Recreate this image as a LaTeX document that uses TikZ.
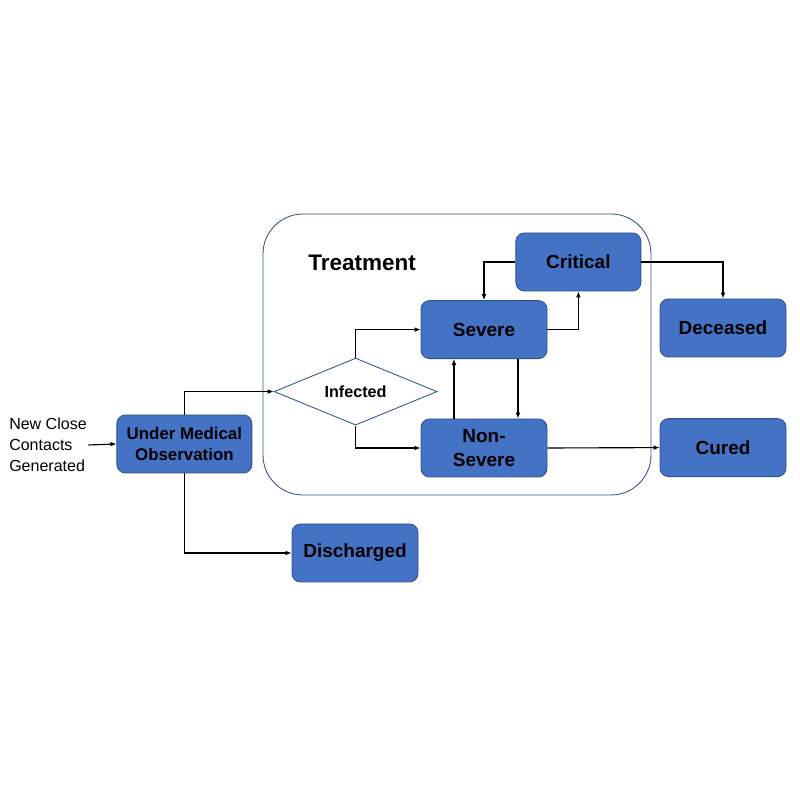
\documentclass[tikz,border=0pt]{standalone}
\usepackage{fontspec}
\setmainfont{Liberation Sans}
\usepackage{xcolor}
\usepackage{tikz}
\usetikzlibrary{calc, shapes.geometric, positioning, arrows.meta}

\definecolor{boxfill}{HTML}{4472C4}
\definecolor{boxedge}{HTML}{2F528F}

\begin{document}
\begin{tikzpicture}[>={Latex[length=1.5mm,width=1.2mm]},
    state/.style={draw=boxedge, fill=boxfill, rounded corners=6pt, line width=0.6pt,
        minimum width=3.15cm, minimum height=1.45cm, align=center,
        font=\fontsize{13.5}{16.5}\selectfont\bfseries},
    flow/.style={->, line width=0.8pt}]
    \useasboundingbox (0,0) rectangle (20,20);
    % treatment frame
    \draw[boxedge, line width=0.6pt, rounded corners=1cm] (6.575,7.625) rectangle (16.275,14.65);
    \node[font=\fontsize{16}{18}\selectfont\bfseries] (treat) at (9.05,13.43) {Treatment};

    \node[align=left, font=\fontsize{11.4}{15}\selectfont, inner sep=1pt] (new) at (1.2,8.875) {New Close\\Contacts\\Generated};
    \node[state, minimum width=3.375cm, font=\fontsize{12}{14.5}\selectfont\bfseries] (umo) at (4.61,8.9) {Under Medical\\Observation};
    \node[diamond, draw=boxedge, fill=white, line width=0.6pt, aspect=2.43, inner sep=0pt,
        minimum width=4.075cm, minimum height=1.675cm, font=\fontsize{11.5}{13}\selectfont\bfseries] (inf) at (8.89,10.21) {Infected};
    \node[state, minimum width=3.125cm] (crit) at (14.46,13.45) {Critical};
    \node[state] (sev) at (12.1,11.76) {Severe};
    \node[state] (nsev) at (12.1,8.8) {Non-\\Severe};
    \node[state] (dec) at (18.075,11.8) {Deceased};
    \node[state] (cur) at (18.075,8.81) {Cured};
    \node[state] (dis) at (8.875,6.175) {Discharged};

    % connectors
    \draw[flow] (new.east) -- (umo.west);
    \draw[flow] (umo.north) |- (inf.west);
    \draw[flow] (umo.south) |- (dis.west);
    \draw[flow] (inf.north) |- (sev.west);
    \draw[flow] (inf.south) |- (nsev.west);
    \draw[flow] (sev.east) -| (crit.south);
    \draw[flow] (crit.west) -| (sev.north);
    \draw[flow] (crit.east) -| (dec.north);
    \draw[flow] ([xshift=0.85cm]sev.south) -- ([xshift=0.85cm]nsev.north);
    \draw[flow] ([xshift=-0.75cm]nsev.north) -- ([xshift=-0.75cm]sev.south);
    \draw[flow] (nsev.east) -- (cur.west);
\end{tikzpicture}
\end{document}
